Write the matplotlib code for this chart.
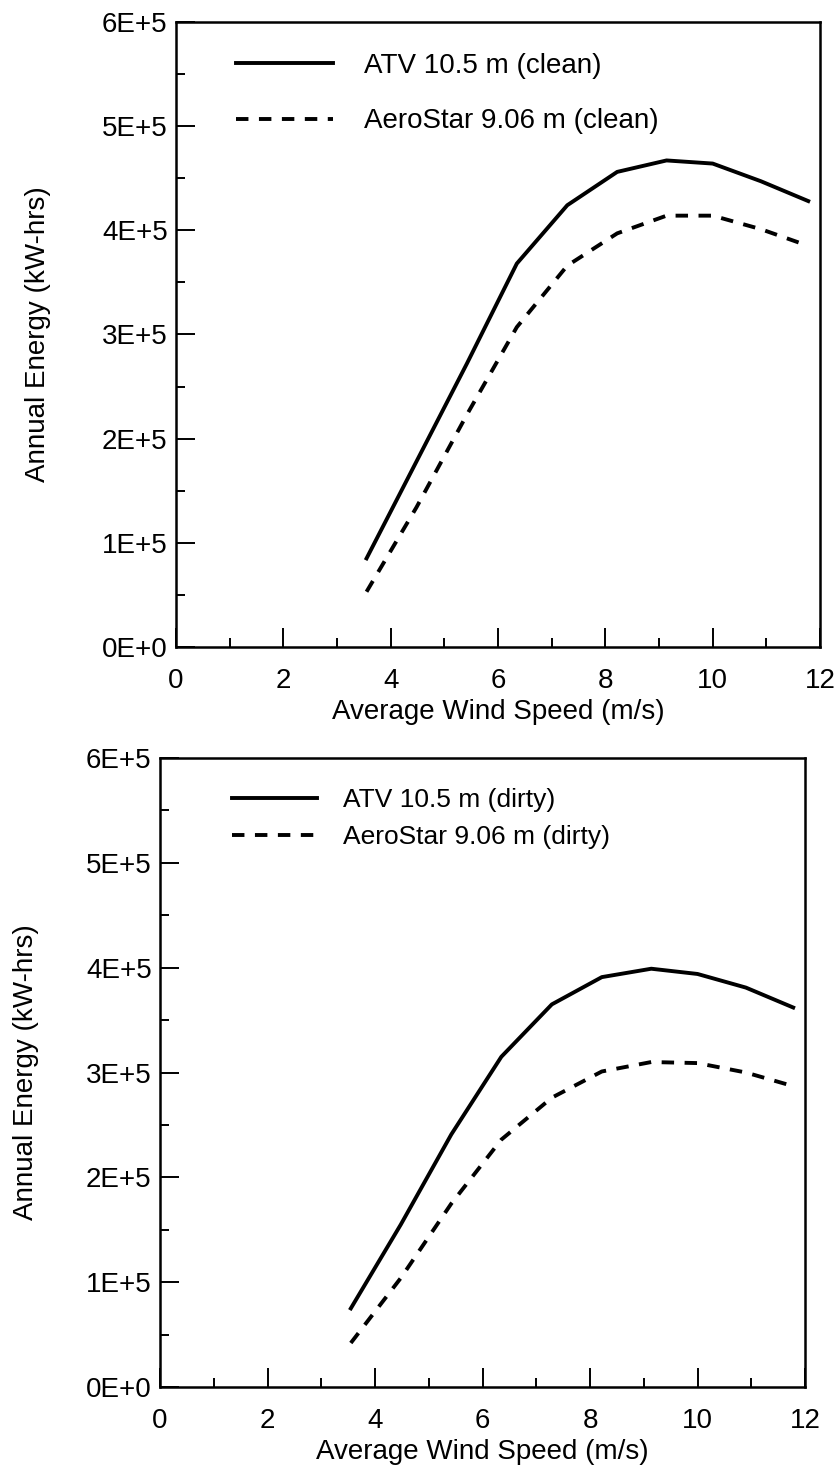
import matplotlib
matplotlib.use('Agg')
import matplotlib.pyplot as plt
from matplotlib.ticker import MultipleLocator, FuncFormatter

plt.rcParams['font.family'] = ['Liberation Sans', 'DejaVu Sans']

# wind speed bins (m/s)
speed = [3.55, 4.48, 5.42, 6.35, 7.29, 8.22, 9.14, 10.0, 10.9, 11.78]

# annual energy, clean blades (kW-hrs)
atv_clean = [85000, 178000, 272000, 368000, 424000, 456000, 467000, 464000, 447000, 428000]
aero_clean = [53000, 134000, 223000, 307000, 366000, 397000, 414000, 414000, 401000, 385000]

# annual energy, dirty blades (kW-hrs)
atv_dirty = [75000, 155000, 241000, 315000, 365000, 391000, 399000, 394000, 381000, 362000]
aero_dirty = [42000, 104000, 175000, 236000, 276000, 301000, 310000, 309000, 300000, 287000]

x_ticks = [0, 2, 4, 6, 8, 10, 12]


def fmt_energy(v, pos):
    n = int(round(v / 1e5))
    return "0E+0" if n == 0 else f"{n}E+5"


def style_axes(ax, label_x):
    ax.set_xlim(0, 12)
    ax.set_ylim(0, 6e5)
    ax.set_xticks(x_ticks)
    ax.xaxis.set_minor_locator(MultipleLocator(1))
    ax.yaxis.set_major_locator(MultipleLocator(1e5))
    ax.yaxis.set_minor_locator(MultipleLocator(0.5e5))
    ax.yaxis.set_major_formatter(FuncFormatter(fmt_energy))
    ax.tick_params(which='both', direction='in', top=False, right=False, width=1.4)
    ax.tick_params(which='major', length=13.5)
    ax.tick_params(which='minor', length=6.5)
    ax.tick_params(axis='x', which='major', pad=15, labelsize=20)
    ax.tick_params(axis='y', which='major', pad=6, labelsize=20)
    for s in ax.spines.values():
        s.set_linewidth(1.8)
    ax.set_xlabel("Average Wind Speed (m/s)", fontsize=20, labelpad=4)
    ax.set_ylabel("Annual Energy (kW-hrs)", fontsize=20)
    ax.yaxis.set_label_coords(label_x, 0.5)


dash = (0, (3.2, 2.7))

fig = plt.figure(figsize=(8.39, 14.69), dpi=100)

# top panel: clean
ax1 = fig.add_axes([0.2098, 0.5596, 0.7676, 0.4255])
ax1.plot(speed, atv_clean, color='black', lw=2.8, label="ATV 10.5 m (clean)")
ax1.plot(speed, aero_clean, color='black', lw=2.8, linestyle=dash, label="AeroStar 9.06 m (clean)")
style_axes(ax1, -0.194)
ax1.legend(loc='upper left', bbox_to_anchor=(0.093, 0.951), frameon=False, fontsize=20,
           handlelength=3.5, handletextpad=1.1, labelspacing=1.07, borderpad=0, borderaxespad=0)

# bottom panel: dirty
ax2 = fig.add_axes([0.1907, 0.0558, 0.7688, 0.4282])
ax2.plot(speed, atv_dirty, color='black', lw=2.8, label="ATV 10.5 m (dirty)")
ax2.plot(speed, aero_dirty, color='black', lw=2.8, linestyle=dash, label="AeroStar 9.06 m (dirty)")
style_axes(ax2, -0.188)
ax2.legend(loc='upper left', bbox_to_anchor=(0.112, 0.952), frameon=False, fontsize=19,
           handlelength=3.2, handletextpad=1.0, labelspacing=0.49, borderpad=0, borderaxespad=0)

fig.savefig("out.png", dpi=100)
plt.close(fig)
